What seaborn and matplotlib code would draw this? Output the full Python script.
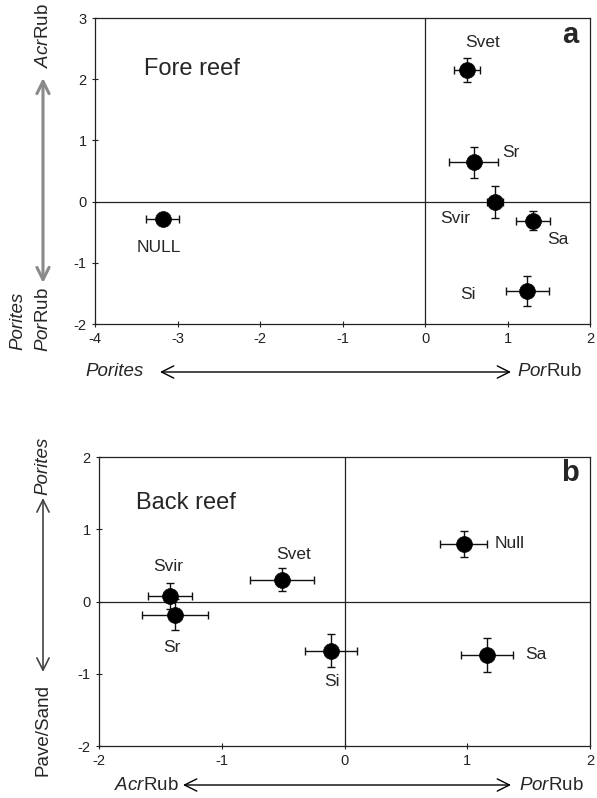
import matplotlib
matplotlib.use("Agg")
import numpy as np
import pandas as pd
import matplotlib.pyplot as plt
import seaborn as sns

# %% data
fore_sites = ["Svet", "Sr", "Svir", "Sa", "Si", "NULL"]
fore_x = [0.51, 0.59, 0.85, 1.31, 1.24, -3.18]
fore_y = [2.15, 0.64, 0.00, -0.31, -1.46, -0.29]
fore_xerr = [0.16, 0.30, 0.10, 0.21, 0.26, 0.20]
fore_yerr = [0.20, 0.25, 0.26, 0.15, 0.25, 0.05]

back_sites = ["Svir", "Sr", "Svet", "Si", "Null", "Sa"]
back_x = [-1.42, -1.38, -0.51, -0.11, 0.97, 1.16]
back_y = [0.08, -0.18, 0.30, -0.68, 0.80, -0.74]
back_xerr = [0.18, 0.27, 0.26, 0.21, 0.19, 0.21]
back_yerr = [0.18, 0.21, 0.16, 0.23, 0.18, 0.24]

fore_xticks = [-4, -3, -2, -1, 0, 1, 2]
fore_yticks = [-2, -1, 0, 1, 2, 3]
back_xticks = [-2, -1, 0, 1, 2]
back_yticks = [-2, -1, 0, 1, 2]

# label offsets in pixels (dx, dy, ha)
fore_lab = {"Svet": (15, 28, "center"), "Sr": (29, 10, "left"),
            "Svir": (-40, -17, "center"), "Sa": (25, -19, "center"),
            "Si": (-59, -4, "center"), "NULL": (-4, -28, "center")}
back_lab = {"Svir": (-2, 29, "center"), "Sr": (-3, -33, "center"),
            "Svet": (12, 25, "center"), "Si": (1, -31, "center"),
            "Null": (31, 0, "left"), "Sa": (38, 0, "left")}

# %% style
sns.set_theme(style="ticks")
plt.rcParams["font.family"] = ["Liberation Sans", "DejaVu Sans"]
plt.rcParams["mathtext.fontset"] = "custom"
plt.rcParams["mathtext.rm"] = "Liberation Sans"
plt.rcParams["mathtext.it"] = "Liberation Sans:italic"
plt.rcParams["axes.unicode_minus"] = False

W, H = 597, 798
fig = plt.figure(figsize=(W / 100, H / 100), dpi=100)


def fx(px):
    return px / W


def fy(py):
    return 1 - py / H


ax_a = fig.add_axes([fx(95), fy(324), fx(590) - fx(95), fy(18) - fy(324)])
ax_b = fig.add_axes([fx(99), fy(746), fx(590) - fx(99), fy(457) - fy(746)])


def draw_panel(ax, sites, x, y, xerr, yerr, labs, xt, yt, title, tpos, letter):
    df = pd.DataFrame({"site": sites, "x": x, "y": y})
    ax.axhline(0, color="#222222", lw=0.9, zorder=1)
    ax.axvline(0, color="#222222", lw=0.9, zorder=1)
    ax.errorbar(df["x"], df["y"], xerr=xerr, yerr=yerr, fmt="none",
                ecolor="#111111", elinewidth=1, capsize=3, capthick=1, zorder=2)
    sns.scatterplot(data=df, x="x", y="y", s=130, color="black",
                    edgecolor="black", linewidth=0.5, zorder=3, legend=False, ax=ax)
    for _, r in df.iterrows():
        dx, dy, ha = labs[r["site"]]
        ax.annotate(r["site"], (r["x"], r["y"]), xytext=(dx, dy),
                    textcoords="offset pixels", ha=ha, va="center", fontsize=12.5)
    ax.set_xlim(xt[0], xt[-1])
    ax.set_ylim(yt[0], yt[-1])
    ax.set_xticks(xt)
    ax.set_yticks(yt)
    ax.set_xticklabels([str(v) for v in xt])
    ax.set_yticklabels([str(v) for v in yt])
    ax.set_xlabel("")
    ax.set_ylabel("")
    ax.tick_params(direction="inout", length=5, width=0.8, labelsize=10.5,
                   colors="#222222")
    for s in ax.spines.values():
        s.set_visible(True)
        s.set_color("#222222")
        s.set_linewidth(0.9)
    ax.text(tpos[0], tpos[1], title, ha="center", va="center", fontsize=17)
    ax.text(0.96, 0.945, letter, transform=ax.transAxes, ha="center",
            va="center", fontsize=21, fontweight="bold")


draw_panel(ax_a, fore_sites, fore_x, fore_y, fore_xerr, fore_yerr, fore_lab,
           fore_xticks, fore_yticks, "Fore reef", (-2.82, 2.16), "a")
draw_panel(ax_b, back_sites, back_x, back_y, back_xerr, back_yerr, back_lab,
           back_xticks, back_yticks, "Back reef", (-1.29, 1.37), "b")


def arrow(p0, p1, color="black", lw=1.0):
    fig.add_artist(matplotlib.patches.FancyArrowPatch(
        (fx(p0[0]), fy(p0[1])), (fx(p1[0]), fy(p1[1])),
        transform=fig.transFigure, arrowstyle="<->", mutation_scale=22,
        color=color, lw=lw, shrinkA=0, shrinkB=0))


def side(px, py, s, **kw):
    fig.text(fx(px), fy(py), s, fontsize=13.5, **kw)


# panel a axis annotations
side(43, 36, "$\\mathit{Acr}$Rub", rotation=90, ha="center", va="center")
arrow((43, 283), (43, 78), color="#8a8a8a", lw=2.2)
side(18, 321, "Porites", rotation=90, ha="center", va="center", style="italic")
side(43, 320, "$\\mathit{Por}$Rub", rotation=90, ha="center", va="center")
side(144, 372, "Porites", ha="right", va="center", style="italic")
arrow((160, 372), (511, 372))
side(517, 372, "$\\mathit{Por}$Rub", ha="left", va="center")

# panel b axis annotations
side(43, 466, "Porites", rotation=90, ha="center", va="center", style="italic")
arrow((43, 672), (43, 498), color="#444444", lw=1.2)
side(43, 730, "Pave/Sand", rotation=90, ha="center", va="center")
side(179, 785, "$\\mathit{Acr}$Rub", ha="right", va="center")
arrow((183, 785), (511, 785))
side(519, 785, "$\\mathit{Por}$Rub", ha="left", va="center")

fig.savefig("out.png", dpi=100)
